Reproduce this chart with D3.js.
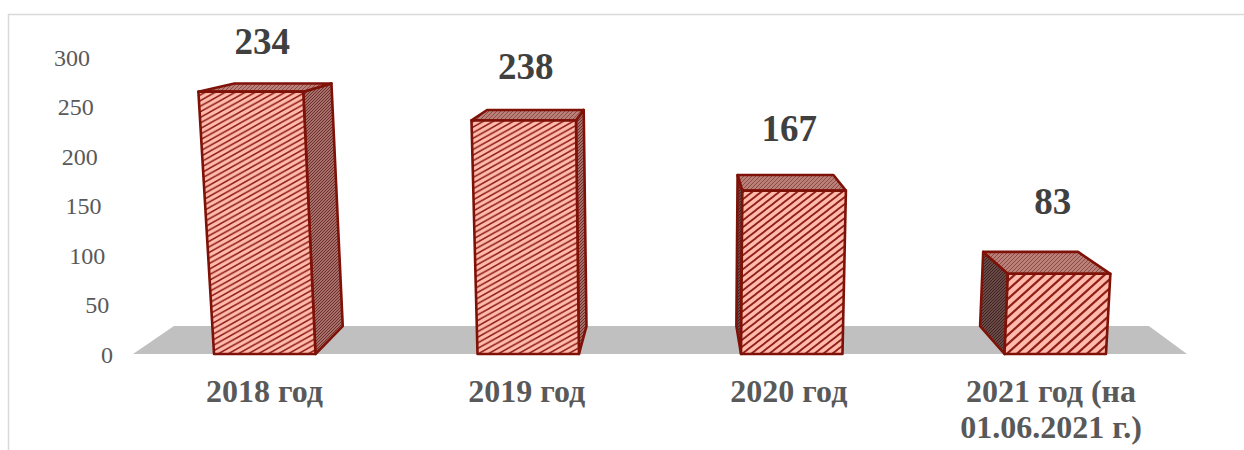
<!DOCTYPE html>
<html>
<head>
<meta charset="utf-8">
<script src="https://cdn.jsdelivr.net/npm/d3@7"></script>
<style>
  html, body { margin: 0; padding: 0; background: #fff; }
  svg { display: block; font-family: "Liberation Serif", serif; }
</style>
</head>
<body>
<div class="chart"></div>
<script>
// chart data
var categories = ["2018 год", "2019 год", "2020 год", "2021 год (на 01.06.2021 г.)"];
var barValues = [265, 236, 165, 81];      // height of the bars against the axis
var barLabels = [234, 238, 167, 83];      // numbers printed above the bars
var axisTicks = [0, 50, 100, 150, 200, 250, 300];

var svgWidth = 1244;
var svgHeight = 450;

var svg = d3.select(".chart")
  .append("svg")
  .attr("width", svgWidth)
  .attr("height", svgHeight);

var x = d3.scaleBand()
  .domain(categories)
  .range([133, 1187])
  .paddingInner(0.615)
  .paddingOuter(0.3075);

var y = d3.scaleLinear()
  .domain([0, 300])
  .range([354, 57]);

// the original is a 3D chart, so everything goes through a small perspective
var vanish = { x: 679, y: -18 };
var depth = 0.075;
var topSpread = 7800;

function project(px, value, back) {
  var h = y(0) - y(value);
  var sx = vanish.x + (px - vanish.x) * (1 + h / topSpread);
  var sy = y(value);
  if (back) {
    sx += (vanish.x - sx) * depth;
    sy += (vanish.y - sy) * depth;
  }
  return [sx, sy];
}

function face(points) {
  return "M" + points.map(p => p.join(",")).join("L") + "Z";
}

// hatch patterns
var defs = svg.append("defs");

function hatch(id, w, h, width) {
  var p = defs.append("pattern")
    .attr("id", id)
    .attr("patternUnits", "userSpaceOnUse")
    .attr("width", w)
    .attr("height", h);
  p.append("rect").attr("width", w).attr("height", h).attr("fill", "#ffb9ad");
  p.append("path")
    .attr("d", `M${-w},${h * 2}L${w * 2},${-h}M${-w},${h}L${w},${-h}M0,${h * 2}L${w * 2},0`)
    .attr("stroke", "#8f2015")
    .attr("stroke-width", width);
}

function speckle(id, bg, fg, size) {
  var p = defs.append("pattern")
    .attr("id", id)
    .attr("patternUnits", "userSpaceOnUse")
    .attr("width", size)
    .attr("height", size);
  p.append("rect").attr("width", size).attr("height", size).attr("fill", bg);
  p.append("path")
    .attr("d", `M0,${size}L${size},0`)
    .attr("stroke", fg)
    .attr("stroke-width", 1);
}

var hatchStyle = [[10, 5.6, 1.5], [10, 5.6, 1.5], [9, 7, 1.8], [10, 9, 2.2]];
hatchStyle.forEach((s, i) => hatch("front" + i, s[0], s[1], s[2]));
speckle("sideRight", "#a5706b", "#6f2f28", 3);
speckle("sideLeft", "#6a4a47", "#3f2320", 3);
speckle("topFace", "#b9807a", "#8f4a43", 4);

// border of the chart area
svg.append("path")
  .attr("d", `M8.5,${svgHeight}V14.5H${svgWidth}`)
  .attr("fill", "none")
  .attr("stroke", "#d9d9d9")
  .attr("stroke-width", 1.5);

// floor
var floorLeft = x.range()[0];
var floorRight = x.range()[1];
svg.append("path")
  .attr("d", face([
    project(floorLeft, 0), project(floorRight, 0),
    project(floorRight, 0, true), project(floorLeft, 0, true)
  ]))
  .attr("fill", "#c0c0c0");

// y axis, the labels lean with the side wall
var yAxis = d3.axisLeft(y)
  .tickValues(axisTicks)
  .tickSize(0)
  .tickPadding(0);

var labelEdge = d3.scaleLinear().domain([0, 300]).range([113, 90]);

var axisGroup = svg.append("g").call(yAxis);
axisGroup.select(".domain").remove();
axisGroup.selectAll(".tick")
  .attr("transform", d => `translate(${labelEdge(d)},${y(d) + 1})`);
axisGroup.selectAll("text")
  .attr("font-family", "Liberation Serif")
  .attr("font-size", 24)
  .attr("fill", "#595959");

// bars
var bars = svg.selectAll(".bar")
  .data(categories)
  .enter()
  .append("g")
  .attr("class", "bar")
  .attr("stroke", "#7f1208")
  .attr("stroke-width", 2.6)
  .attr("stroke-linejoin", "round");

bars.append("path")
  .attr("fill", (d, i) => x(d) > vanish.x ? "url(#sideLeft)" : "url(#sideRight)")
  .attr("d", (d, i) => {
    var edge = x(d) > vanish.x ? x(d) : x(d) + x.bandwidth();
    return face([
      project(edge, 0), project(edge, barValues[i]),
      project(edge, barValues[i], true), project(edge, 0, true)
    ]);
  });

bars.append("path")
  .attr("fill", "url(#topFace)")
  .attr("d", (d, i) => face([
    project(x(d), barValues[i]), project(x(d) + x.bandwidth(), barValues[i]),
    project(x(d) + x.bandwidth(), barValues[i], true), project(x(d), barValues[i], true)
  ]));

bars.append("path")
  .attr("fill", (d, i) => `url(#front${i})`)
  .attr("d", (d, i) => face([
    project(x(d), 0), project(x(d) + x.bandwidth(), 0),
    project(x(d) + x.bandwidth(), barValues[i]), project(x(d), barValues[i])
  ]));

// numbers above the bars
var labelGap = d3.scaleLinear().domain([265, 81]).range([38, 60]);

svg.selectAll(".value")
  .data(barLabels)
  .enter()
  .append("text")
  .attr("class", "value")
  .attr("x", (d, i) => x(categories[i]) + x.bandwidth() / 2 - 2.5)
  .attr("y", (d, i) => y(barValues[i]) - labelGap(barValues[i]))
  .attr("text-anchor", "middle")
  .attr("font-size", 37)
  .attr("font-weight", "bold")
  .attr("fill", "#404040")
  .text(d => d);

// category labels, the last one wraps on two lines
var catX = d3.scalePoint().domain(categories).range([264.5, 1051]);
var catLines = categories.map(c => c.indexOf("(") > -1 ? [c.slice(0, c.indexOf("01.") - 1), c.slice(c.indexOf("01."))] : [c]);

svg.selectAll(".cat")
  .data(categories)
  .enter()
  .append("text")
  .attr("class", "cat")
  .attr("text-anchor", "middle")
  .attr("font-size", 32)
  .attr("font-weight", "bold")
  .attr("fill", "#595959")
  .selectAll("tspan")
  .data((d, i) => catLines[i].map((line, n) => ({ line: line, n: n, c: d })))
  .enter()
  .append("tspan")
  .attr("x", d => catX(d.c))
  .attr("y", d => 402 + d.n * 36)
  .text(d => d.line);
</script>
</body>
</html>
